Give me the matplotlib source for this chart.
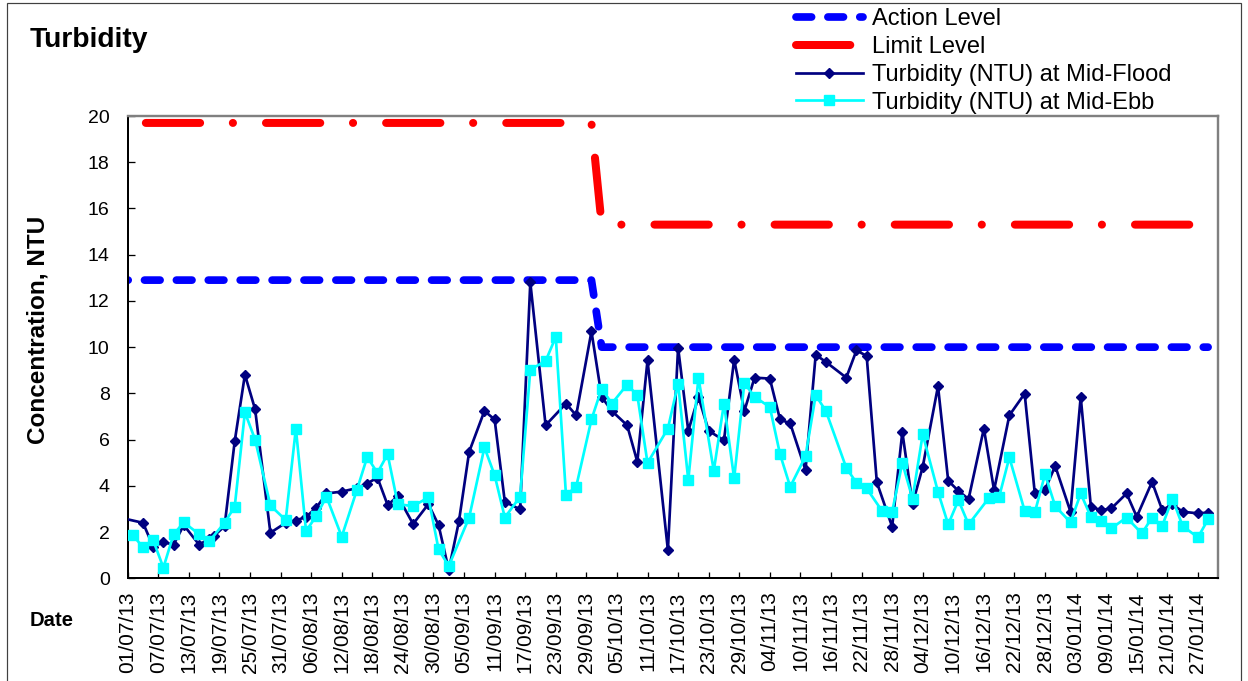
import matplotlib
matplotlib.use('Agg')
import matplotlib.pyplot as plt
import matplotlib.dates as mdates
from matplotlib.lines import Line2D
from matplotlib.patches import Rectangle
import pandas as pd

plt.rcParams['font.family'] = ['Liberation Sans', 'DejaVu Sans']
plt.rcParams['lines.scale_dashes'] = False

# ---------------- data ----------------
flood_dates = ['2013-06-28', '2013-07-04', '2013-07-06', '2013-07-08', '2013-07-10', '2013-07-12',
               '2013-07-15', '2013-07-17', '2013-07-18', '2013-07-20', '2013-07-22', '2013-07-24',
               '2013-07-26', '2013-07-29', '2013-08-01', '2013-08-03', '2013-08-05', '2013-08-07',
               '2013-08-09', '2013-08-12', '2013-08-15', '2013-08-17', '2013-08-19', '2013-08-21',
               '2013-08-23', '2013-08-26', '2013-08-29', '2013-08-31', '2013-09-02', '2013-09-04',
               '2013-09-06', '2013-09-09', '2013-09-11', '2013-09-13', '2013-09-16', '2013-09-18',
               '2013-09-21', '2013-09-25', '2013-09-27', '2013-09-30', '2013-10-02', '2013-10-04',
               '2013-10-07', '2013-10-09', '2013-10-11', '2013-10-15', '2013-10-17', '2013-10-19',
               '2013-10-21', '2013-10-23', '2013-10-26', '2013-10-28', '2013-10-30', '2013-11-01',
               '2013-11-04', '2013-11-06', '2013-11-08', '2013-11-11', '2013-11-13', '2013-11-15',
               '2013-11-19', '2013-11-21', '2013-11-23', '2013-11-25', '2013-11-28', '2013-11-30',
               '2013-12-02', '2013-12-04', '2013-12-07', '2013-12-09', '2013-12-11', '2013-12-13',
               '2013-12-16', '2013-12-18', '2013-12-21', '2013-12-24', '2013-12-26', '2013-12-28',
               '2013-12-30', '2014-01-02', '2014-01-04', '2014-01-06', '2014-01-08', '2014-01-10',
               '2014-01-13', '2014-01-15', '2014-01-18', '2014-01-20', '2014-01-22', '2014-01-24',
               '2014-01-27', '2014-01-29']
flood_vals = [2.7, 2.4, 1.37, 1.56, 1.46, 2.3,
              1.46, 1.7, 1.85, 2.25, 5.93, 8.81,
              7.31, 1.97, 2.4, 2.5, 2.66, 3.05,
              3.67, 3.75, 3.9, 4.1, 4.36, 3.17,
              3.55, 2.35, 3.21, 2.3, 0.36, 2.47,
              5.47, 7.24, 6.87, 3.31, 2.98, 12.8,
              6.62, 7.56, 7.05, 10.68, 7.85, 7.24,
              6.62, 5.04, 9.43, 1.22, 9.98, 6.38,
              7.85, 6.38, 5.97, 9.46, 7.24, 8.68,
              8.64, 6.87, 6.7, 4.68, 9.67, 9.36,
              8.68, 9.86, 9.62, 4.15, 2.23, 6.33,
              3.21, 4.82, 8.31, 4.22, 3.78, 3.43,
              6.48, 3.81, 7.05, 7.99, 3.67, 3.84,
              4.86, 2.88, 7.85, 3.09, 2.95, 3.02,
              3.67, 2.66, 4.17, 2.95, 3.2, 2.88,
              2.81, 2.84]

ebb_dates = ['2013-07-02', '2013-07-04', '2013-07-06', '2013-07-08', '2013-07-10', '2013-07-12',
             '2013-07-15', '2013-07-17', '2013-07-20', '2013-07-22', '2013-07-24', '2013-07-26',
             '2013-07-29', '2013-08-01', '2013-08-03', '2013-08-05', '2013-08-07', '2013-08-09',
             '2013-08-12', '2013-08-15', '2013-08-17', '2013-08-19', '2013-08-21', '2013-08-23',
             '2013-08-26', '2013-08-29', '2013-08-31', '2013-09-02', '2013-09-06', '2013-09-09',
             '2013-09-11', '2013-09-13', '2013-09-16', '2013-09-18', '2013-09-21', '2013-09-23',
             '2013-09-25', '2013-09-27', '2013-09-30', '2013-10-02', '2013-10-04', '2013-10-07',
             '2013-10-09', '2013-10-11', '2013-10-15', '2013-10-17', '2013-10-19', '2013-10-21',
             '2013-10-24', '2013-10-26', '2013-10-28', '2013-10-30', '2013-11-01', '2013-11-04',
             '2013-11-06', '2013-11-08', '2013-11-11', '2013-11-13', '2013-11-15', '2013-11-19',
             '2013-11-21', '2013-11-23', '2013-11-26', '2013-11-28', '2013-11-30', '2013-12-02',
             '2013-12-04', '2013-12-07', '2013-12-09', '2013-12-11', '2013-12-13', '2013-12-17',
             '2013-12-19', '2013-12-21', '2013-12-24', '2013-12-26', '2013-12-28', '2013-12-30',
             '2014-01-02', '2014-01-04', '2014-01-06', '2014-01-08', '2014-01-10', '2014-01-13',
             '2014-01-16', '2014-01-18', '2014-01-20', '2014-01-22', '2014-01-24', '2014-01-27',
             '2014-01-29']
ebb_vals = [1.87, 1.34, 1.65, 0.46, 1.9, 2.42,
            1.91, 1.6, 2.4, 3.1, 7.18, 6.0,
            3.15, 2.52, 6.48, 2.04, 2.7, 3.53,
            1.8, 3.84, 5.25, 4.56, 5.37, 3.21,
            3.12, 3.5, 1.25, 0.53, 2.63, 5.66,
            4.46, 2.63, 3.53, 9.03, 9.4, 10.44,
            3.6, 3.96, 6.87, 8.21, 7.56, 8.38,
            7.92, 4.99, 6.48, 8.42, 4.25, 8.68,
            4.65, 7.56, 4.32, 8.45, 7.85, 7.41,
            5.37, 3.96, 5.28, 7.92, 7.24, 4.78,
            4.13, 3.89, 2.92, 2.88, 4.99, 3.45,
            6.23, 3.74, 2.33, 3.38, 2.33, 3.48,
            3.53, 5.23, 2.92, 2.85, 4.5, 3.12,
            2.42, 3.67, 2.66, 2.47, 2.16, 2.63,
            1.94, 2.63, 2.27, 3.45, 2.26, 1.77,
            2.55]

level_dates = ['2013-07-01', '2013-09-30', '2013-10-02', '2014-01-29']
action_level = [12.9, 12.9, 10.0, 10.0]
limit_level = [19.7, 19.7, 15.3, 15.3]

x_start, x_end = '2013-07-01', '2014-01-31'
tick_dates = pd.date_range('2013-07-01', '2014-01-27', freq='6D')
y_ticks = list(range(0, 21, 2))

title = 'Turbidity'
y_label = 'Concentration, NTU'
x_label = 'Date'
labels = ['Action Level', 'Limit Level', 'Turbidity (NTU) at Mid-Flood', 'Turbidity (NTU) at Mid-Ebb']

# ---------------- figure ----------------
W, H = 1248, 681
fig = plt.figure(figsize=(W / 100, H / 100), dpi=100)
L, R, T, B = 127.7, 1218.3, 116.0, 578.3
ax = fig.add_axes([L / W, 1 - B / H, (R - L) / W, (B - T) / H])

BLUE, RED, NAVY, CYAN = '#0000FF', '#FF0000', '#000080', '#00FFFF'
px = 1 / 1.389  # points per pixel at 100 dpi

lv_x = pd.to_datetime(level_dates)
ax.plot(lv_x, action_level, color=BLUE, lw=7.7 * px,
        linestyle=(15.1 * px, (15.6 * px, 16.3 * px)), dash_capstyle='round', zorder=2)
ax.plot(lv_x, limit_level, color=RED, lw=8 * px,
        linestyle=(102 * px, (54.3 * px, 32.7 * px, 0.1, 33 * px)), dash_capstyle='round', zorder=2)

ax.plot(pd.to_datetime(flood_dates), flood_vals, color=NAVY, lw=2.7 * px, marker='D',
        ms=4.7, mec=NAVY, mfc=NAVY, zorder=3)
ax.plot(pd.to_datetime(ebb_dates), ebb_vals, color=CYAN, lw=2.7 * px, marker='s',
        ms=7.4, mec=CYAN, mfc=CYAN, zorder=4)

ax.set_xlim(pd.Timestamp(x_start), pd.Timestamp(x_end))
ax.set_ylim(0, 20)
ax.set_yticks(y_ticks)
ax.set_xticks(tick_dates)
ax.xaxis.set_major_formatter(mdates.DateFormatter('%d/%m/%y'))
ax.tick_params(axis='x', direction='in', length=6 * px, width=1.3 * px, labelsize=15,
               rotation=90, pad=13 * px)
ax.tick_params(axis='y', direction='in', length=7 * px, width=1.3 * px, labelsize=14,
               pad=18 * px)
for s in ['left', 'bottom']:
    ax.spines[s].set_color('black')
    ax.spines[s].set_linewidth(2 * px)
for s in ['top', 'right']:
    ax.spines[s].set_color('#808080')
    ax.spines[s].set_linewidth(2.4 * px)

# texts
fig.text(30 / W, 1 - 46.7 / H, title, fontsize=20.3, fontweight='bold', ha='left', va='baseline')
fig.text(38.5 / W, 1 - 330 / H, y_label, fontsize=17.5, fontweight='bold', rotation=90,
         ha='center', va='center')
fig.text(30 / W, 1 - 620.7 / H, x_label, fontsize=14.6, fontweight='bold', ha='left', va='center')

# legend (proxy handles so that dash phase starts at beginning)
handles = [
    Line2D([], [], color=BLUE, lw=7.7 * px, linestyle=(0, (15.6 * px, 16.3 * px)), dash_capstyle='round'),
    Line2D([], [], color=RED, lw=8 * px, linestyle=(0, (54.3 * px, 32.7 * px, 0.1, 33 * px)), dash_capstyle='round'),
    Line2D([], [], color=NAVY, lw=2.7 * px, marker='D', ms=4.7, mec=NAVY, mfc=NAVY),
    Line2D([], [], color=CYAN, lw=2.7 * px, marker='s', ms=7.4, mec=CYAN, mfc=CYAN),
]
fig.legend(handles, labels, loc='upper left', bbox_to_anchor=(795.5 / W, 1 - 8 / H),
           frameon=False, fontsize=17, handlelength=67 / 23.6, handletextpad=9.3 / 23.6,
           labelspacing=0.25, borderpad=0, borderaxespad=0, numpoints=1)

# chart-area frame
fig.add_artist(Rectangle((7 / W, -0.05), (1241 - 7) / W, 1.05 - 3 / H, transform=fig.transFigure,
                         fill=False, ec='#404040', lw=1.2 * px))

fig.savefig('out.png', dpi=100)
